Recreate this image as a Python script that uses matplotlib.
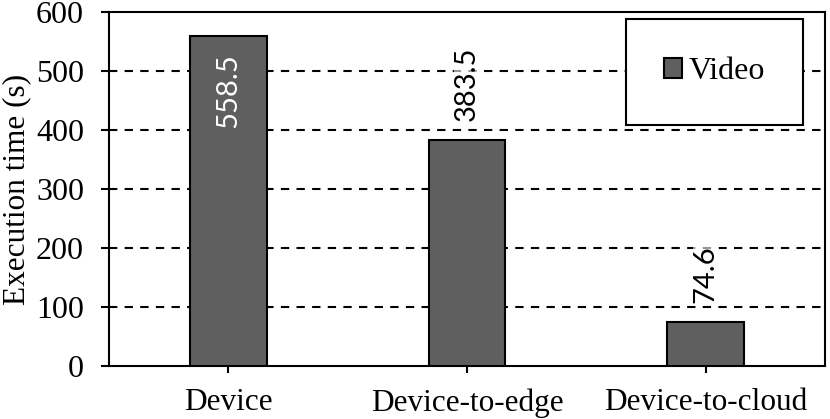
import numpy as np
import matplotlib
matplotlib.use("Agg")
import matplotlib.pyplot as plt

# data
categories = ["Device", "Device-to-edge", "Device-to-cloud"]
video_times = [558.5, 383.5, 74.6]
series_name = "Video"
y_ticks = [0, 100, 200, 300, 400, 500, 600]

plt.rcParams['font.family'] = ['Liberation Serif', 'DejaVu Serif']

fig = plt.figure(figsize=(8.3, 4.19), dpi=100)
ax = fig.add_axes([109/830, 1 - 366/419, 716/830, 354/419])

x = np.arange(len(categories))
bars = ax.bar(x, video_times, width=0.32, color='#5f5f5f', edgecolor='black',
              linewidth=1.5, label=series_name, zorder=3)

ax.set_xlim(-0.5, len(categories) - 0.5)
ax.set_ylim(0, 600)
ax.set_yticks(y_ticks)
ax.set_xticks(x)
ax.set_xticklabels(categories, fontsize=22.5)
ax.tick_params(axis='y', labelsize=23, direction='out', length=6, width=1.5, pad=12)
ax.tick_params(axis='x', direction='out', length=5, width=1.5, pad=11)
ax.set_ylabel("Execution time (s)", fontsize=22.5)
ax.yaxis.set_label_coords(-(109 - 31) / 716, 0.5)

for s in ax.spines.values():
    s.set_linewidth(1.5)

# dashed grid, skipping the top line (the spine is there)
for yv in y_ticks[1:-1]:
    ax.axhline(yv, color='black', linestyle=(0, (4, 3.5)), linewidth=1.5, zorder=1)

# value labels
for i, v in enumerate(video_times):
    if v > 500:
        ax.text(x[i], v - 28, f"{v}", rotation=90, ha='center', va='top',
                color='white', fontsize=21, family=['Lato', 'DejaVu Sans'], zorder=4)
    else:
        ax.text(x[i], v + 32, f"{v}", rotation=90, ha='center', va='bottom',
                color='black', fontsize=21, family=['Lato', 'DejaVu Sans'], zorder=4,
                bbox=dict(facecolor='white', alpha=0.6, edgecolor='none', pad=0))

leg = ax.legend(loc='upper right', bbox_to_anchor=(694/716, 1 - 7/354),
                fontsize=23, frameon=True, fancybox=False, framealpha=1,
                borderpad=1.2, handlelength=0.55, handleheight=0.55,
                handletextpad=0.2, borderaxespad=0)
leg.get_frame().set_edgecolor('black')
leg.get_frame().set_linewidth(1.5)
leg.set_zorder(5)

fig.savefig("out.png", dpi=100)
